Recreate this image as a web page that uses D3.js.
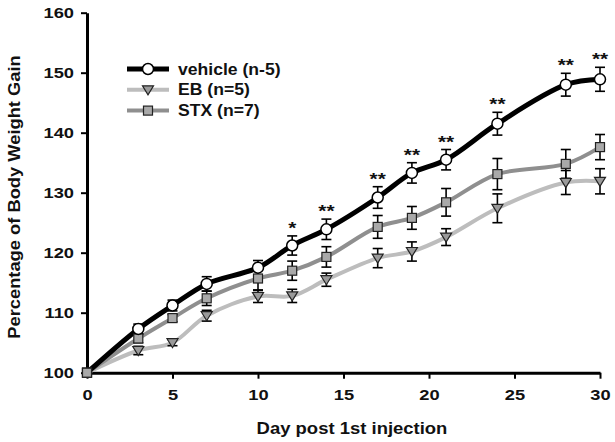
<!DOCTYPE html>
<html>
<head>
<meta charset="utf-8">
<script src="https://d3js.org/d3.v7.min.js"></script>
<style>
body { margin: 0; background: white; }
text { font-family: "Liberation Sans", Arial, sans-serif; font-weight: bold; fill: #111; }
</style>
</head>
<body>
<div id="chart"></div>
<script>
// jours de mesure
const days = [0, 3, 5, 7, 10, 12, 14, 17, 19, 21, 24, 28, 30];

const vehicle    = [100, 107.3, 111.2, 114.8, 117.5, 121.2, 123.9, 129.2, 133.3, 135.5, 141.5, 148.0, 148.9];
const vehicleErr = [0, 0.8, 0.9, 1.2, 1.2, 1.6, 1.7, 1.8, 1.7, 1.7, 1.9, 1.9, 2.0];
const eb         = [100, 103.7, 105.0, 109.5, 112.7, 112.8, 115.5, 119.1, 120.2, 122.6, 127.4, 131.7, 131.9];
const ebErr      = [0, 0.7, 0.5, 0.9, 1.0, 1.1, 1.1, 1.6, 1.6, 1.4, 2.4, 2.0, 2.1];
const stx        = [100, 105.7, 109.1, 112.4, 115.7, 117.0, 119.3, 124.3, 125.8, 128.4, 133.1, 134.8, 137.6];
const stxErr     = [0, 0.7, 0.6, 1.2, 1.9, 1.6, 1.7, 1.9, 1.9, 2.3, 2.6, 2.4, 2.1];
// significativité vehicle vs groupes
const stars      = ["", "", "", "", "", "*", "**", "**", "**", "**", "**", "**", "**"];

const xTicks = [0, 5, 10, 15, 20, 25, 30];
const yTicks = [100, 110, 120, 130, 140, 150, 160];

const width = 615, height = 442;
const sx = 1.22; // le texte de l'original est un peu étiré en largeur

const svg = d3.select("#chart").append("svg")
    .attr("width", width).attr("height", height);

const x = d3.scaleLinear().domain([0, 30]).range([87, 600]);
const y = d3.scaleLinear().domain([100, 160]).range([372.7, 12.7]);

// axes
svg.append("g")
    .attr("transform", "translate(0," + y(100) + ")")
    .call(d3.axisBottom(x).tickValues(xTicks).tickSize(6).tickPadding(11).tickSizeOuter(0))
    .call(g => g.select(".domain").attr("stroke-width", 3))
    .call(g => g.selectAll(".tick line").attr("stroke-width", 2))
    .call(g => g.selectAll(".tick text").attr("font-size", 15)
        .attr("transform", "scale(" + sx + ",1)")
        .style("font-family", "Liberation Sans, Arial").style("font-weight", "bold"));

svg.append("g")
    .attr("transform", "translate(" + x(0) + ",0)")
    .call(d3.axisLeft(y).tickValues(yTicks).tickSize(6).tickPadding(7).tickSizeOuter(0))
    .call(g => g.select(".domain").attr("stroke-width", 3))
    .call(g => g.selectAll(".tick line").attr("stroke-width", 2))
    .call(g => g.selectAll(".tick text").attr("font-size", 15)
        .attr("x", -13 / sx)
        .attr("transform", "scale(" + sx + ",1)")
        .style("font-family", "Liberation Sans, Arial").style("font-weight", "bold"));

svg.append("text")
    .attr("transform", "translate(20,197) rotate(-90) scale(1.11,1)")
    .attr("text-anchor", "middle")
    .attr("font-size", 16.5)
    .text("Percentage of Body Weight Gain");

svg.append("text")
    .attr("transform", "translate(352,434) scale(1.12,1)")
    .attr("text-anchor", "middle")
    .attr("font-size", 16.5)
    .text("Day post 1st injection");

const line = d3.line()
    .x((d, i) => x(days[i]))
    .y(d => y(d))
    .curve(d3.curveCatmullRom.alpha(0.5));

const series = [
  { name: "EB (n=5)", vals: eb, err: ebErr, color: "#bdbdbd", w: 4, mark: "tri", fill: "#9a9a9a" },
  { name: "STX (n=7)", vals: stx, err: stxErr, color: "#8f8f8f", w: 4, mark: "sq", fill: "#a9a9a9" },
  { name: "vehicle (n-5)", vals: vehicle, err: vehicleErr, color: "#000", w: 5, mark: "circ", fill: "#fff" }
];

function marker(g, type, fill) {
  if (type == "circ") {
    g.append("circle").attr("r", 5.5).attr("fill", fill).attr("stroke", "#000").attr("stroke-width", 1.5);
  } else if (type == "sq") {
    g.append("rect").attr("x", -4.5).attr("y", -4.5).attr("width", 9).attr("height", 9)
      .attr("fill", fill).attr("stroke", "#222").attr("stroke-width", 1.2);
  } else {
    g.append("path").attr("d", "M-5.5,-4 L5.5,-4 L0,5 Z")
      .attr("fill", fill).attr("stroke", "#222").attr("stroke-width", 1.2);
  }
}

series.forEach(s => {
  svg.append("path")
    .datum(s.vals)
    .attr("fill", "none")
    .attr("stroke", s.color)
    .attr("stroke-width", s.w)
    .attr("d", line);
});

// barres d'erreur puis marqueurs
series.forEach(s => {
  const eg = svg.append("g").attr("stroke", "#000").attr("stroke-width", 1.6);
  s.vals.forEach((v, i) => {
    if (s.err[i] == 0) return;
    const cx = x(days[i]), t = y(v + s.err[i]), b = y(v - s.err[i]);
    eg.append("line").attr("x1", cx).attr("x2", cx).attr("y1", t).attr("y2", b);
    eg.append("line").attr("x1", cx - 5).attr("x2", cx + 5).attr("y1", t).attr("y2", t);
    eg.append("line").attr("x1", cx - 5).attr("x2", cx + 5).attr("y1", b).attr("y2", b);
  });
});
series.forEach(s => {
  s.vals.forEach((v, i) => {
    const g = svg.append("g").attr("transform", "translate(" + x(days[i]) + "," + y(v) + ")");
    marker(g, i == 0 ? "sq" : s.mark, i == 0 ? "#a9a9a9" : s.fill);
  });
});

// étoiles
stars.forEach((st, i) => {
  if (!st) return;
  svg.append("text")
    .attr("transform", "translate(" + x(days[i]) + "," + (y(vehicle[i] + vehicleErr[i]) - 2) + ") scale(1.3,1)")
    .attr("text-anchor", "middle")
    .attr("font-size", 16)
    .text(st);
});

// légende
const legOrder = [series[2], series[0], series[1]];
legOrder.forEach((s, k) => {
  const ly = 69 + k * 20.8;
  svg.append("line").attr("x1", 127).attr("x2", 169).attr("y1", ly).attr("y2", ly)
    .attr("stroke", s.color).attr("stroke-width", s.w);
  const g = svg.append("g").attr("transform", "translate(148," + ly + ")");
  marker(g, s.mark, s.fill);
  svg.append("text").attr("transform", "translate(178," + (ly + 5.5) + ") scale(1.1,1)")
    .attr("font-size", 16).text(s.name);
});
</script>
</body>
</html>
